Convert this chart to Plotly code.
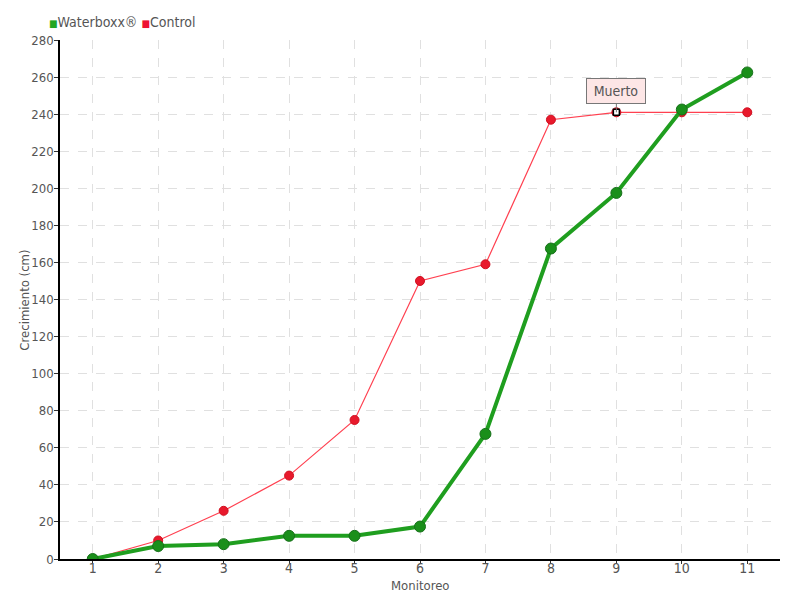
import plotly.graph_objects as go

monitoreo = [1, 2, 3, 4, 5, 6, 7, 8, 9, 10, 11]
waterboxx = [0, 7, 8, 12.5, 12.5, 17.5, 67.5, 167.5, 197.5, 242.5, 262.5]
control = [0, 10, 26, 45, 75, 150, 159, 237, 241, 241, 241]
y_ticks = list(range(0, 281, 20))
muerto_idx = 8

FONT = "DejaVu Sans Condensed, Liberation Sans Narrow, sans-serif"
GREEN = "#1f9e1f"
RED = "#ff4050"
TXT = "#555555"

fig = go.Figure()

fig.add_trace(go.Scatter(
    x=monitoreo, y=control, mode="lines+markers", name="Control",
    line=dict(color=RED, width=1.2),
    marker=dict(color="#e8192c", size=9, line=dict(color="#d01020", width=1)),
    showlegend=False,
))
fig.add_trace(go.Scatter(
    x=monitoreo, y=waterboxx, mode="lines+markers", name="Waterboxx®",
    line=dict(color=GREEN, width=4),
    marker=dict(color="#1a8f1a", size=11, line=dict(color="#17701a", width=1)),
    showlegend=False,
))
# "Muerto" point marker
fig.add_trace(go.Scatter(
    x=[monitoreo[muerto_idx]], y=[control[muerto_idx]], mode="markers",
    marker=dict(symbol="square", color="white", size=6, line=dict(color="black", width=1.5)),
    showlegend=False, hoverinfo="skip",
))

# legend drawn as text
fig.add_annotation(
    xref="paper", yref="paper", x=-0.018, y=1.016, xanchor="left", yanchor="bottom",
    showarrow=False,
    text='<span style="color:#22a622;font-size:10px">■</span>Waterboxx® '
         '<span style="color:#ee1133;font-size:10px">■</span>Control',
    font=dict(family=FONT, size=14, color=TXT),
)
# axis titles
fig.add_annotation(
    xref="paper", yref="paper", x=0.5, y=-0.052, xanchor="center", yanchor="middle",
    showarrow=False, text="Monitoreo", font=dict(family=FONT, size=13, color=TXT),
)
fig.add_annotation(
    xref="paper", yref="paper", x=-0.0505, y=0.499, xanchor="center", yanchor="middle",
    showarrow=False, text="Crecimiento (cm)", textangle=-90,
    font=dict(family=FONT, size=13, color=TXT),
)

fig.add_annotation(
    x=monitoreo[muerto_idx], y=control[muerto_idx], text="Muerto",
    showarrow=True, arrowhead=0, arrowwidth=1, arrowcolor="#777",
    ax=0, ay=-21, bgcolor="#fde6e6", bordercolor="#777", borderwidth=1,
    borderpad=4, width=50, font=dict(family=FONT, size=14, color=TXT),
)

fig.update_layout(
    width=800, height=600,
    margin=dict(l=60, r=20, t=40, b=41),
    paper_bgcolor="white", plot_bgcolor="white",
    font=dict(family=FONT, size=13, color=TXT),
    showlegend=False,
)

fig.update_xaxes(
    range=[0.5, 11.5], tickvals=monitoreo, ticktext=[str(v) for v in monitoreo],
    showline=True, linecolor="black", linewidth=1.5,
    ticks="outside", ticklen=3, tickcolor="#333",
    showgrid=True, gridcolor="#e0e0e0", griddash="dash", gridwidth=1,
    zeroline=False, automargin=False, ticklabelstandoff=-8,
    tickfont=dict(family=FONT, size=14, color=TXT),
)
fig.update_yaxes(
    range=[0, 280], tickvals=y_ticks,
    showline=True, linecolor="black", linewidth=1.5,
    ticks="outside", ticklen=4, tickcolor="#333",
    showgrid=True, gridcolor="#e0e0e0", griddash="dash", gridwidth=1,
    zeroline=False, automargin=False, ticklabelstandoff=-2,
    tickfont=dict(family=FONT, size=13, color=TXT),
)

fig.write_html("out.html", post_script="document.body.style.margin='0';",
               config={"displayModeBar": False})
